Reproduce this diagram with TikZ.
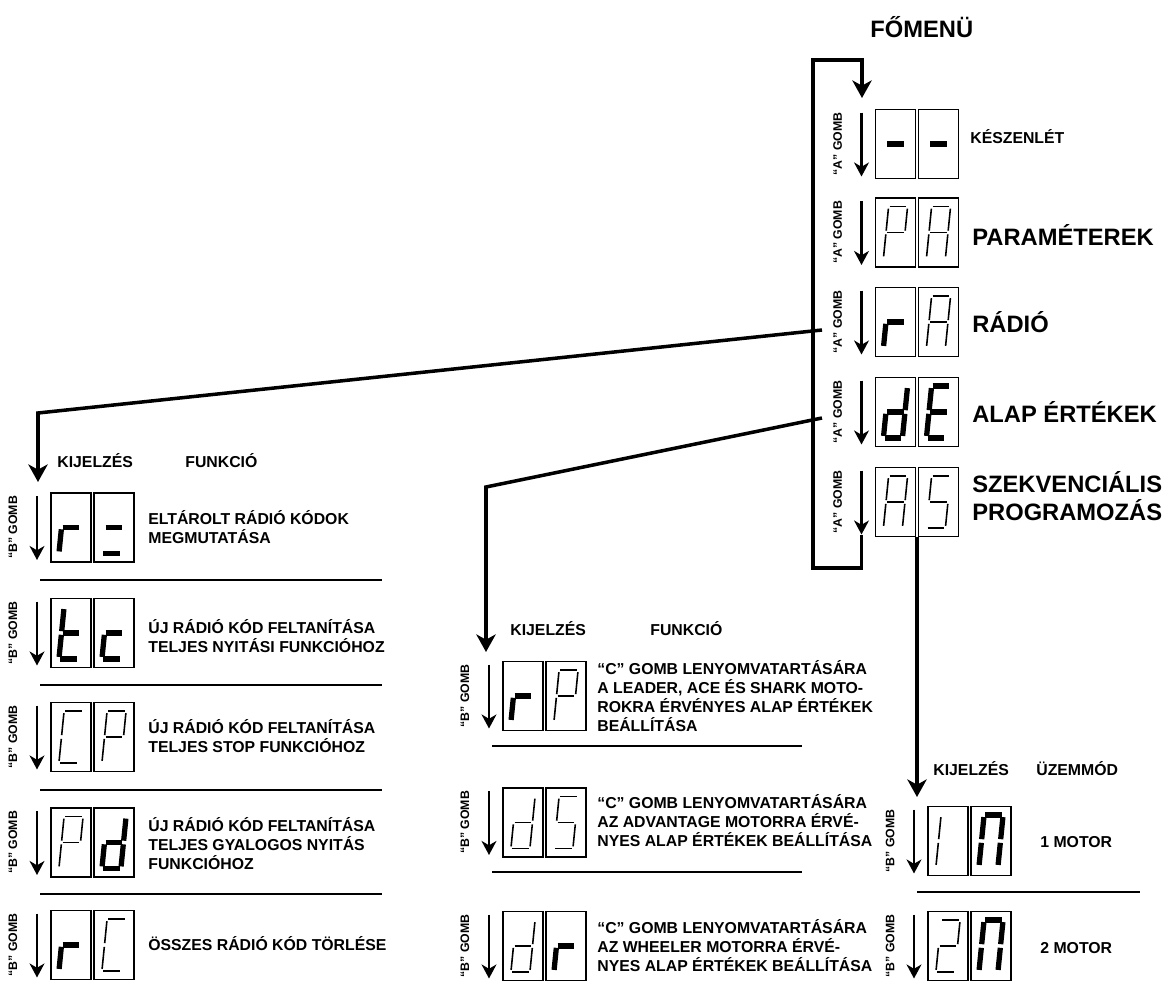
\documentclass[tikz,border=0pt]{standalone}
\usepackage{fontspec}
\setmainfont{Liberation Sans}
\usetikzlibrary{arrows.meta}

% the seven segments of one digit, in the digit's own frame
\newcommand\digitsega{(-0.88,1)--(0.88,1)}
\newcommand\digitsegb{(1,0.92)--(1,0.07)}
\newcommand\digitsegc{(1,-0.07)--(1,-0.92)}
\newcommand\digitsegd{(-0.88,-1)--(0.88,-1)}
\newcommand\digitsege{(-1,-0.07)--(-1,-0.92)}
\newcommand\digitsegf{(-1,0.92)--(-1,0.07)}
\newcommand\digitsegg{(-0.88,0)--(0.88,0)}

% one digit: centre, segments, style
\newcommand\segdigit[3]{%
  \begin{scope}[shift={#1}, xslant=0.1, x=0.19cm, y=0.52cm]
    \foreach \s in {#2} {\draw[#3] \csname digitseg\s\endcsname;}
  \end{scope}}

% a display of two digits with its button arrow and label
% name, x, y, button, left segments, left style, right segments, right style
\newcommand\segdisplay[8]{%
  \node[dbox] (#1-l) at (#2-21.5,#3) {};
  \node[dbox] (#1-r) at (#2+21.5,#3) {};
  \segdigit{(#1-l)}{#5}{#6}
  \segdigit{(#1-r)}{#7}{#8}
  \coordinate (#1-top) at ([xshift=-0.28cm, yshift=-0.06cm]#1-l.north west);
  \coordinate (#1-bot) at ([xshift=-0.28cm, yshift=0.04cm]#1-l.south west);
  \draw[gombarrow] (#1-top) -- (#1-bot);
  \node[gomblabel] (#1-gomb) at ([xshift=-0.76cm]#1-l.west) {``#4'' GOMB};}

\begin{document}
\begin{tikzpicture}[x=0.02cm, y=-0.02cm,
  dbox/.style={draw, line width=0.8pt, minimum width=0.8cm, minimum height=1.38cm, inner sep=0pt, outer sep=0pt},
  thinseg/.style={line width=0.9pt},
  boldseg/.style={line width=3pt},
  conn/.style={line width=2pt},
  bigtip/.style={-{Stealth[length=10pt, width=11pt, inset=3pt]}},
  gombarrow/.style={line width=1.2pt, -{Stealth[length=8pt, width=8.5pt, inset=2.5pt]}},
  gomblabel/.style={rotate=90, inner sep=0pt, font=\bfseries\fontsize{7}{8}\selectfont},
  menutext/.style={anchor=base west, inner sep=0pt, align=left, font=\bfseries\fontsize{13.5}{15.4}\selectfont},
  functext/.style={anchor=base west, inner sep=0pt, align=left, font=\bfseries\fontsize{9}{10.8}\selectfont},
  sepline/.style={line width=0.8pt}
]

  \useasboundingbox (0,0) rectangle (1171,981);

  % Main menu
  \node[menutext] (fomenu) at (870,37) {FŐMENÜ};

  \segdisplay{stb}{917}{144}{A}{g}{boldseg}{g}{boldseg}
  \segdisplay{par}{917}{232.5}{A}{a,b,e,f,g}{thinseg}{a,b,c,e,f,g}{thinseg}
  \segdisplay{rad}{917}{322}{A}{e,g}{boldseg}{a,b,c,e,f,g}{thinseg}
  \segdisplay{def}{917}{412}{A}{b,c,d,e,g}{boldseg}{a,d,e,f,g}{boldseg}
  \segdisplay{seq}{917}{502}{A}{a,b,c,e,f,g}{thinseg}{a,c,d,f,g}{thinseg}

  % (multi-line texts are placed by their last baseline)
  \node[functext] (stb-t) at (970,143) {KÉSZENLÉT};
  \node[menutext] (par-t) at (972,245) {PARAMÉTEREK};
  \node[menutext] (rad-t) at (972,332) {RÁDIÓ};
  \node[menutext] (def-t) at (972,422) {ALAP ÉRTÉKEK};
  \node[menutext] (seq-t) at (972,520) {SZEKVENCIÁLIS\\PROGRAMOZÁS};

  % Loop back to the top of the menu
  \coordinate (loop-left) at (813,568);
  \coordinate (loop-top) at (862,60);
  \coordinate (menu-in) at (862,98);
  \draw[conn, bigtip] (seq-bot) |- (loop-left) |- (loop-top) -- (menu-in);

  % Radio submenu
  \coordinate (radio-out) at (822,330);
  \coordinate (radio-bend) at (38,413);
  \coordinate (radio-in) at (38,482);
  \draw[conn, bigtip] (radio-out) -- (radio-bend) -- (radio-in);

  \node[functext] (rad-h1) at (57,467) {KIJELZÉS};
  \node[functext] (rad-h2) at (185,467) {FUNKCIÓ};

  \segdisplay{rsh}{92.5}{527.5}{B}{e,g}{boldseg}{d,g}{boldseg}
  \segdisplay{rtc}{92.5}{633}{B}{d,e,f,g}{boldseg}{d,e,g}{boldseg}
  \segdisplay{rcp}{92.5}{737}{B}{a,d,e,f}{thinseg}{a,b,e,f,g}{thinseg}
  \segdisplay{rpd}{92.5}{842.5}{B}{a,b,e,f,g}{thinseg}{b,c,d,e,g}{boldseg}
  \segdisplay{rcl}{92.5}{945}{B}{e,g}{boldseg}{a,d,e,f}{thinseg}

  \node[functext] (rsh-t) at (148,543) {ELTÁROLT RÁDIÓ KÓDOK\\MEGMUTATÁSA};
  \node[functext] (rtc-t) at (148,652) {ÚJ RÁDIÓ KÓD FELTANÍTÁSA\\TELJES NYITÁSI FUNKCIÓHOZ};
  \node[functext] (rcp-t) at (148,752) {ÚJ RÁDIÓ KÓD FELTANÍTÁSA\\TELJES STOP FUNKCIÓHOZ};
  \node[functext] (rpd-t) at (148,869) {ÚJ RÁDIÓ KÓD FELTANÍTÁSA\\TELJES GYALOGOS NYITÁS\\FUNKCIÓHOZ};
  \node[functext] (rcl-t) at (148,950) {ÖSSZES RÁDIÓ KÓD TÖRLÉSE};

  \foreach \y in {580,685,790,894}
    \draw[sepline] (40,\y) -- (382,\y);

  % Default values submenu
  \coordinate (def-out) at (822,418);
  \coordinate (def-bend) at (486,487);
  \coordinate (def-in) at (486,652);
  \draw[conn, bigtip] (def-out) -- (def-bend) -- (def-in);

  \node[functext] (def-h1) at (510,635) {KIJELZÉS};
  \node[functext] (def-h2) at (650,635) {FUNKCIÓ};

  \segdisplay{drp}{544.5}{696}{B}{e,g}{boldseg}{a,b,e,f,g}{thinseg}
  \segdisplay{dds}{544.5}{822.5}{B}{b,c,d,e,g}{thinseg}{a,c,d,f,g}{thinseg}
  \segdisplay{ddr}{544.5}{946}{B}{b,c,d,e,g}{thinseg}{e,g}{boldseg}

  \node[functext] (drp-t) at (597,731) {``C'' GOMB LENYOMVATARTÁSÁRA\\A LEADER, ACE ÉS SHARK MOTO-\\ROKRA ÉRVÉNYES ALAP ÉRTÉKEK\\BEÁLLÍTÁSA};
  \node[functext] (dds-t) at (597,846) {``C'' GOMB LENYOMVATARTÁSÁRA\\AZ ADVANTAGE MOTORRA ÉRVÉ-\\NYES ALAP ÉRTÉKEK BEÁLLÍTÁSA};
  \node[functext] (ddr-t) at (597,971) {``C'' GOMB LENYOMVATARTÁSÁRA\\AZ WHEELER MOTORRA ÉRVÉ-\\NYES ALAP ÉRTÉKEK BEÁLLÍTÁSA};

  \foreach \y in {746,872}
    \draw[sepline] (492,\y) -- (802,\y);

  % Sequential programming submenu
  \coordinate (seq-out) at (917,537);
  \coordinate (seq-in) at (917,797);
  \draw[conn, bigtip] (seq-out) -- (seq-in);

  \node[functext] (seq-h1) at (933,775) {KIJELZÉS};
  \node[functext] (seq-h2) at (1036,775) {ÜZEMMÓD};

  \segdisplay{mo1}{969.5}{841}{B}{e,f}{thinseg}{a,b,c,e,f}{boldseg}
  \segdisplay{mo2}{969.5}{946}{B}{a,b,d,e,g}{thinseg}{a,b,c,e,f}{boldseg}

  \node[functext] (mo1-t) at (1040,847) {1 MOTOR};
  \node[functext] (mo2-t) at (1040,953) {2 MOTOR};

  \draw[sepline] (917,892) -- (1140,892);

\end{tikzpicture}
\end{document}
